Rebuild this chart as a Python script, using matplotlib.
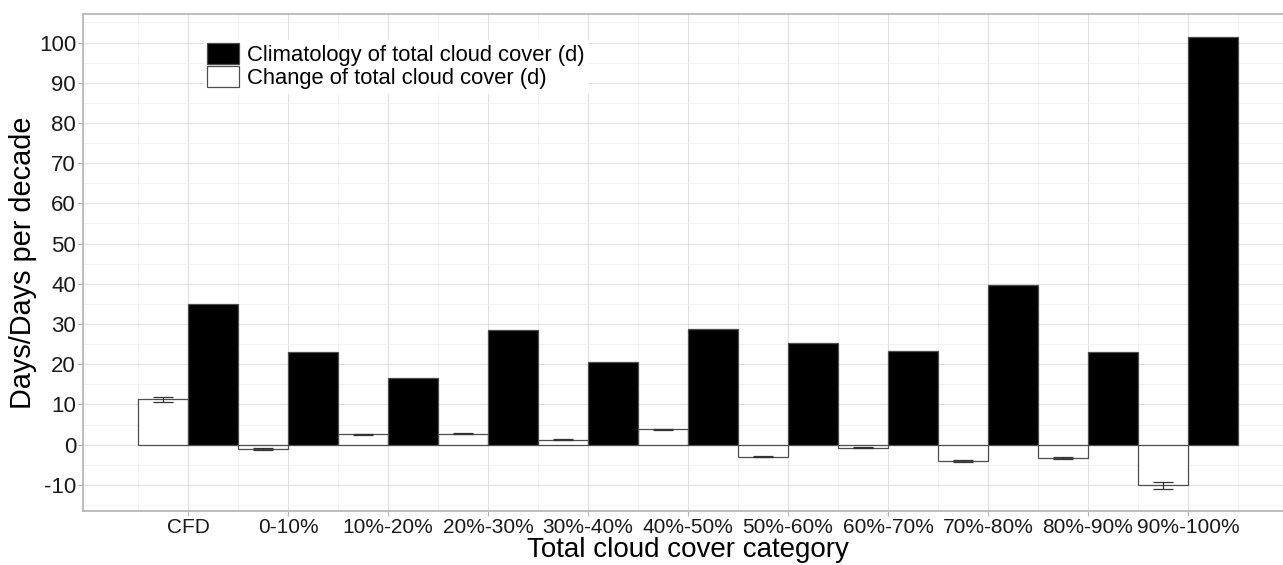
import numpy as np
import matplotlib
matplotlib.use('Agg')
import matplotlib.pyplot as plt
from matplotlib.patches import Patch

categories = ['CFD', '0-10%', '10%-20%', '20%-30%', '30%-40%', '40%-50%',
              '50%-60%', '60%-70%', '70%-80%', '80%-90%', '90%-100%']
climatology = [35.0, 23.1, 16.5, 28.4, 20.5, 28.8, 25.3, 23.3, 39.7, 23.0, 101.4]
change = [11.3, -1.1, 2.6, 2.7, 1.2, 3.8, -3.0, -0.8, -4.0, -3.3, -10.1]
change_err = [0.6, 0.2, 0.15, 0.15, 0.15, 0.15, 0.15, 0.15, 0.2, 0.2, 0.9]

plt.rcParams['font.family'] = ['Liberation Sans', 'DejaVu Sans']
plt.rcParams['axes.unicode_minus'] = False

fig = plt.figure(figsize=(12.83, 5.65), dpi=100)
ax = fig.add_axes([83 / 1283, 1 - 511 / 565, 1210 / 1283, 497 / 565])

x = np.arange(len(categories))
w = 0.5
edge = '#4d4d4d'
ax.bar(x - w / 2, change, width=w, color='white', edgecolor=edge, linewidth=0.9, zorder=3)
ax.bar(x + w / 2, climatology, width=w, color='black', edgecolor=edge, linewidth=0.9, zorder=3)
ax.errorbar(x - w / 2, change, yerr=change_err, fmt='none', ecolor='#333333',
            elinewidth=0.9, capsize=7, capthick=0.9, zorder=4)

ax.set_xlim(-1.05, 11.05)
ax.set_ylim(-16.5, 107.1)
ax.set_xticks(x)
ax.set_xticklabels(categories)
ax.set_yticks(np.arange(-10, 101, 10))
ax.set_xticks(np.arange(-0.5, 11, 1), minor=True)
ax.set_yticks(np.arange(-15, 106, 10), minor=True)

ax.grid(which='major', color='#e0e0e0', linewidth=0.8, zorder=0)
ax.grid(which='minor', color='#ededed', linewidth=0.5, zorder=0)
ax.set_axisbelow(True)
for s in ax.spines.values():
    s.set_color('#b3b3b3')
    s.set_linewidth(1.2)
ax.tick_params(which='major', length=3.5, color='#b3b3b3', labelcolor='#1a1a1a', pad=1.5)
ax.tick_params(axis='x', which='major', labelsize=15)
ax.tick_params(axis='y', which='major', labelsize=16)
ax.tick_params(which='minor', length=0)

ax.set_xlabel('Total cloud cover category', fontsize=20, color='black', labelpad=0)
ax.set_ylabel('Days/Days per decade', fontsize=20.8, color='black', labelpad=1)

handles = [Patch(facecolor='black', edgecolor=edge, linewidth=0.9),
           Patch(facecolor='white', edgecolor=edge, linewidth=0.9)]
leg = ax.legend(handles, ['Climatology of total cloud cover (d)',
                          'Change of total cloud cover (d)'],
                loc='upper left', bbox_to_anchor=(204 / 1283, 1 - 40 / 565),
                bbox_transform=fig.transFigure, fontsize=15.8, frameon=True,
                fancybox=False, edgecolor='white', framealpha=1,
                handlelength=1.45, handleheight=1.1, labelspacing=0.0,
                handletextpad=0.35, borderpad=0.15, borderaxespad=0)
leg.set_zorder(5)

fig.savefig('out.png', dpi=100)
